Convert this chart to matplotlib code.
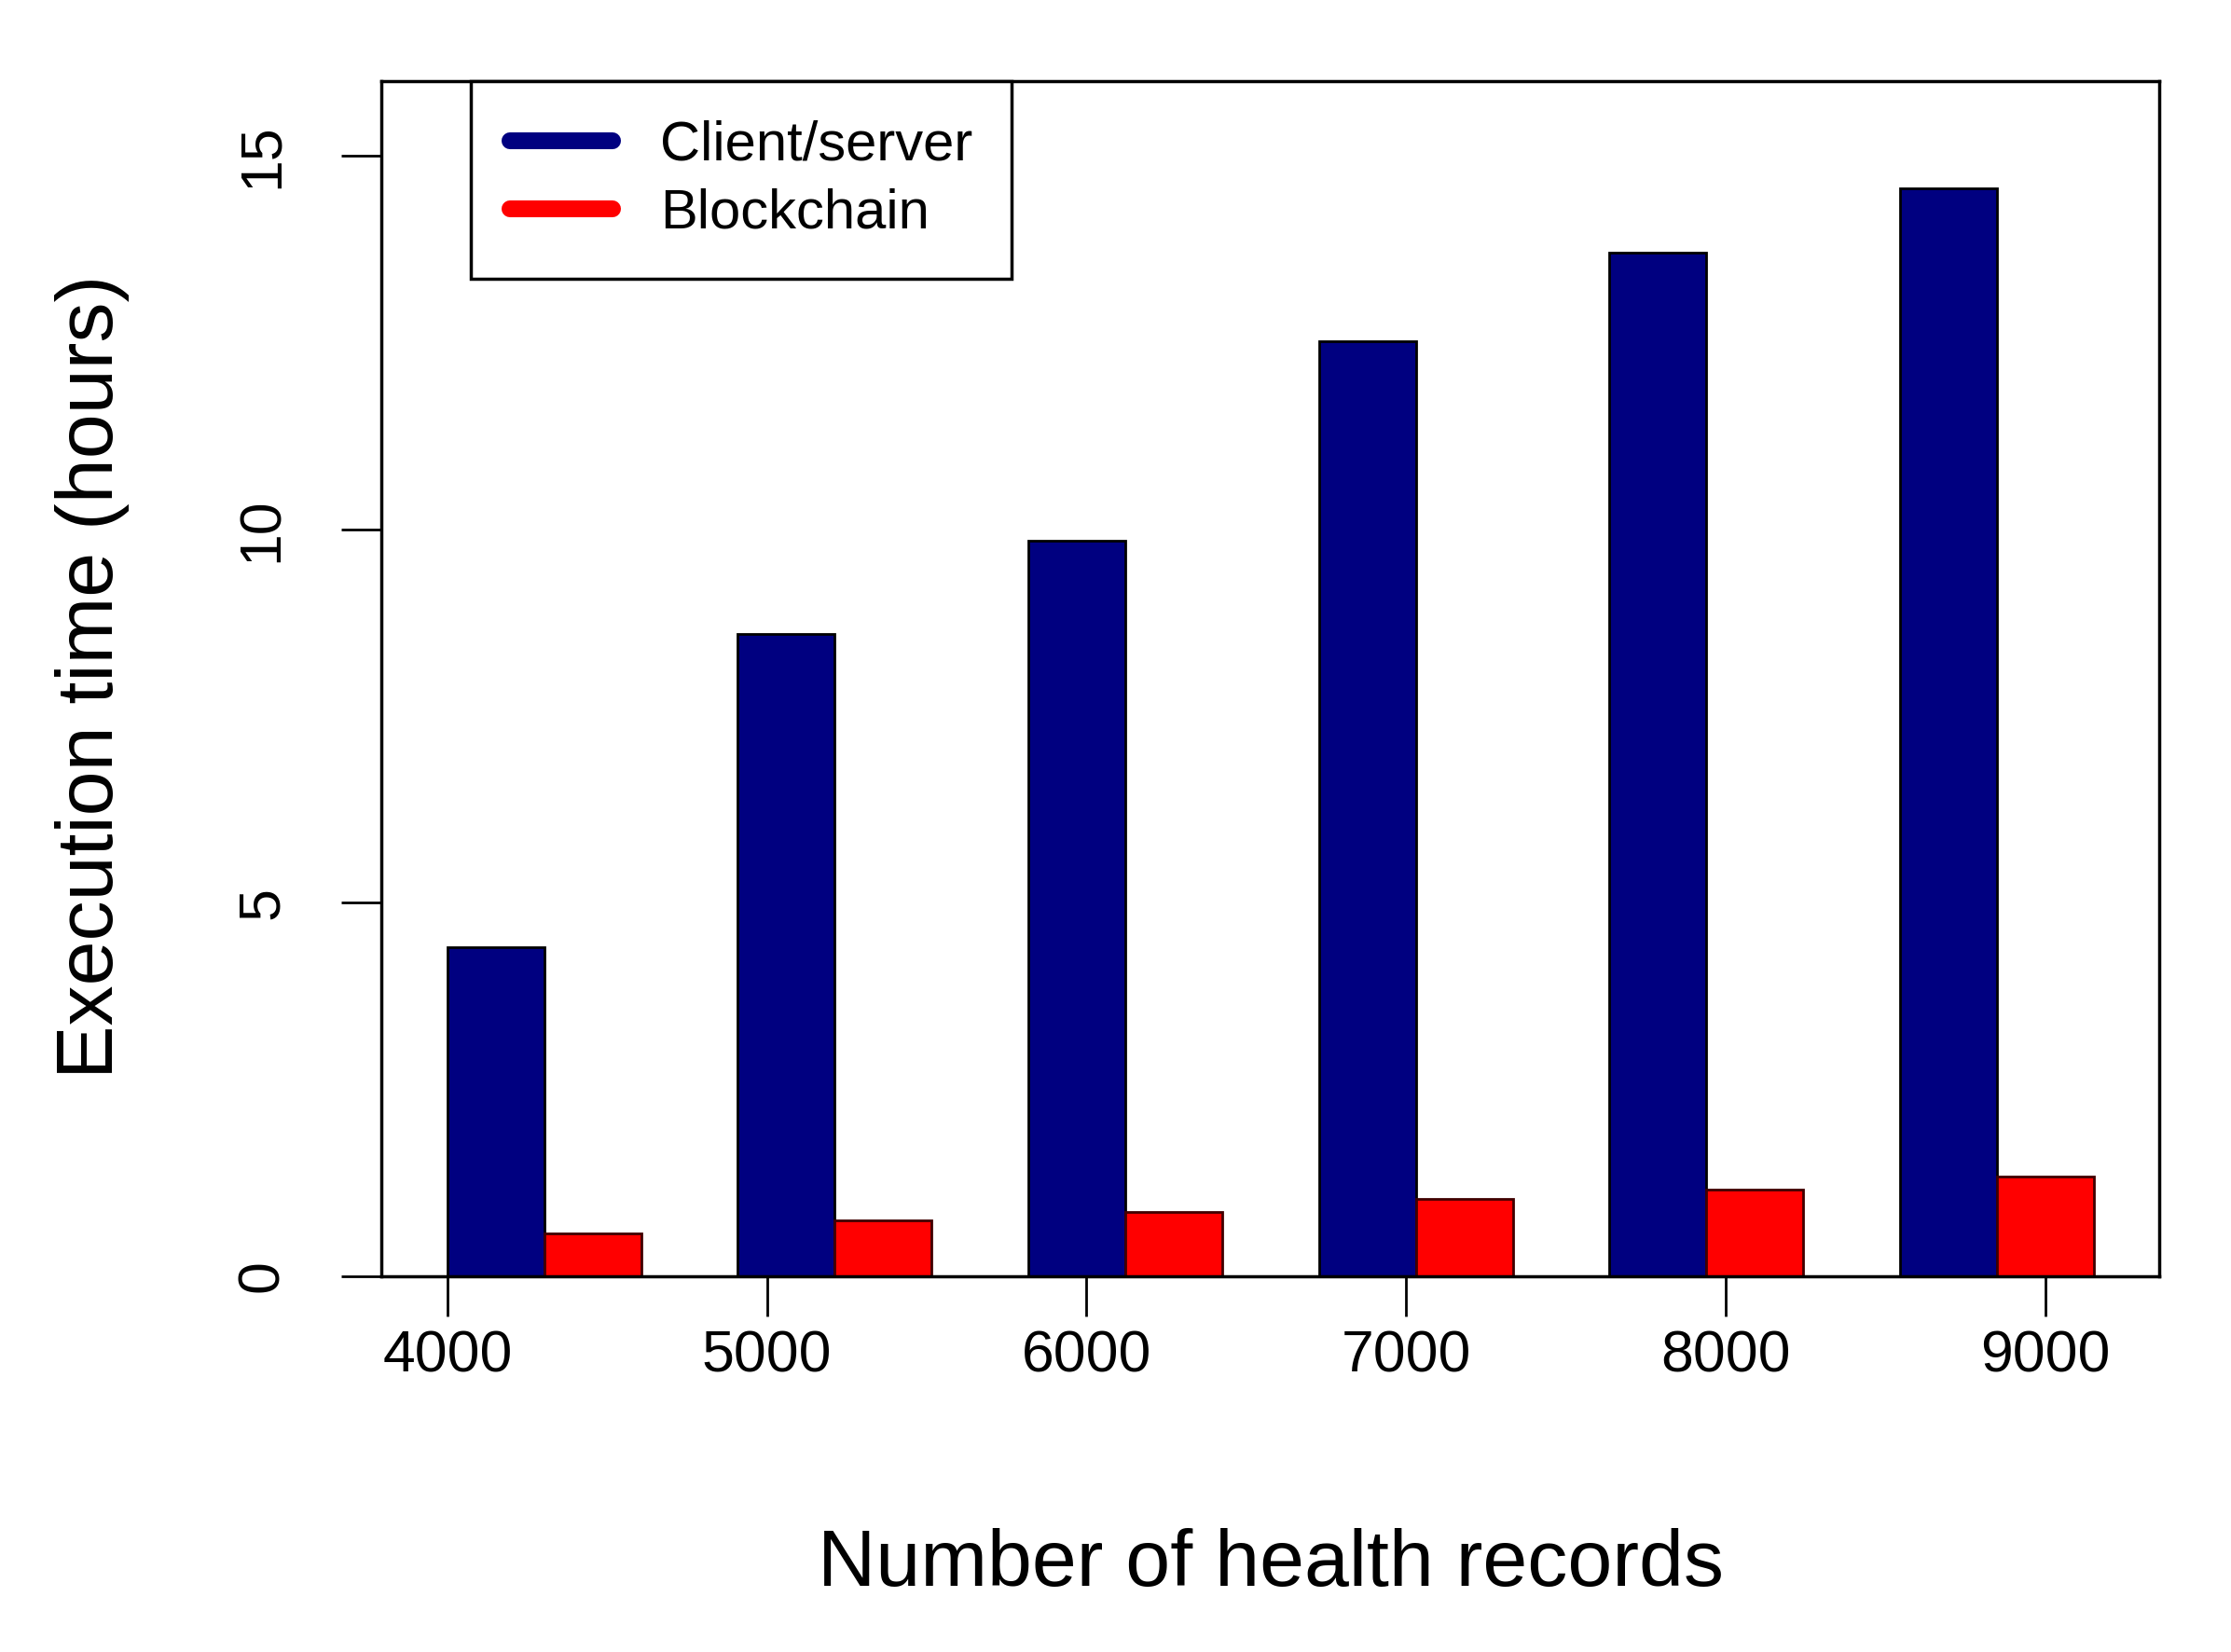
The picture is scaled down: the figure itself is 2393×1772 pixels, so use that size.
import numpy as np
import matplotlib
matplotlib.use('Agg')
import matplotlib.pyplot as plt
from matplotlib.lines import Line2D

# data
records = ['4000', '5000', '6000', '7000', '8000', '9000']
client_server = [4.40, 8.60, 9.85, 12.52, 13.70, 14.57]
blockchain = [0.57, 0.75, 0.86, 1.04, 1.16, 1.34]

plt.rcParams['font.family'] = ['Liberation Sans', 'DejaVu Sans']

fig = plt.figure(figsize=(23.93, 17.72), dpi=100)
ax = fig.add_axes([0.171, 0.2274, 0.797, 0.7235])

# R-style barplot layout: groups of two unit-wide bars separated by one unit
n = len(records)
group_left = 1 + 3 * np.arange(n)
ax.bar(group_left + 0.5, client_server, width=1.0, color='#000080',
       edgecolor='black', linewidth=2.0)
ax.bar(group_left + 1.5, blockchain, width=1.0, color='#ff0000',
       edgecolor='#400000', linewidth=2.0)

ax.set_xlim(0.32, 18.68)
ax.set_ylim(0, 16)

# tick marks were placed independently of the bars in the original
tick_pos = 1 + 3.3 * np.arange(n)
ax.set_xticks(tick_pos)
ax.set_xticklabels(records, fontsize=45)
ax.set_yticks([0, 5, 10, 15])
ax.set_yticklabels(['0', '5', '10', '15'], fontsize=45, rotation=90, va='center')

ax.tick_params(axis='both', direction='out', length=31, width=2.0)
ax.tick_params(axis='x', pad=10)
ax.tick_params(axis='y', pad=40)
for sp in ax.spines.values():
    sp.set_linewidth(2.5)

ax.set_xlabel('Number of health records', fontsize=62, va='center')
ax.xaxis.set_label_coords(0.5, -0.242)
ax.set_ylabel('Execution time (hours)', fontsize=62, va='center')
ax.yaxis.set_label_coords(-0.1625, 0.502)

handles = [
    Line2D([], [], color='#000080', linewidth=13, solid_capstyle='round'),
    Line2D([], [], color='#ff0000', linewidth=13, solid_capstyle='round'),
]
leg = ax.legend(handles, ['Client/server', 'Blockchain'], loc='upper left',
                bbox_to_anchor=(0.0503, 1.0), fontsize=43, frameon=True,
                fancybox=False, framealpha=1, edgecolor='black',
                borderpad=0.7, labelspacing=0.3, handlelength=1.85,
                handletextpad=0.85, borderaxespad=0)
leg.get_frame().set_linewidth(2.5)

fig.savefig('out.png', dpi=100)
